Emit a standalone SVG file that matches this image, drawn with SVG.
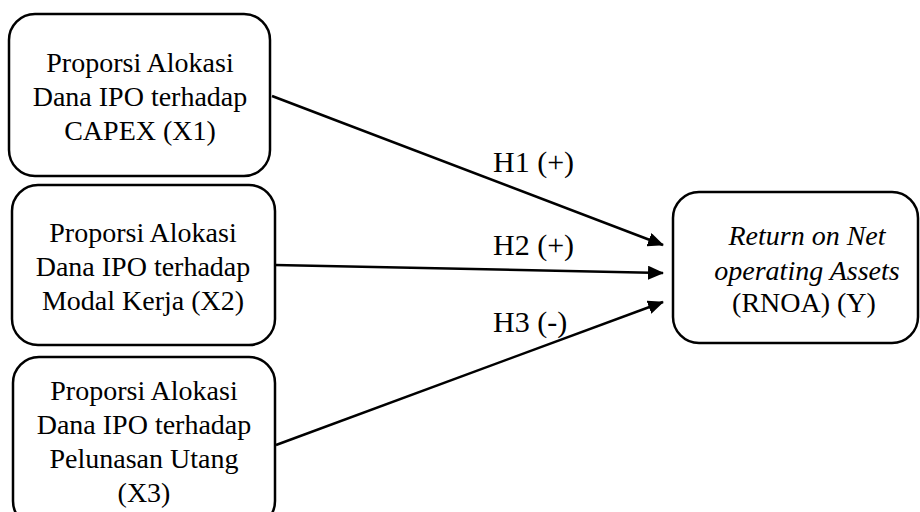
<svg xmlns="http://www.w3.org/2000/svg" width="920" height="512" viewBox="0 0 920 512">
<style>
.box{fill:#fff;stroke:#000;stroke-width:2.5}
.t{font-family:"Liberation Serif","Times New Roman",serif;font-size:28px;fill:#000;text-anchor:middle}
.i{font-style:italic}
.lbl{font-family:"Liberation Serif","Times New Roman",serif;font-size:30px;fill:#000}
.c{stroke:#000;stroke-width:2.5;fill:none;marker-end:url(#ah)}
</style>
<defs>
<marker id="ah" markerWidth="16" markerHeight="14" refX="15" refY="7" orient="auto" markerUnits="userSpaceOnUse">
<path d="M0,0 L16,7 L0,14 Z" fill="#000"/>
</marker>
</defs>
<rect width="920" height="512" fill="#fff"/>
<g id="connectors">
<line class="c" x1="272" y1="96" x2="663" y2="245"/>
<line class="c" x1="275" y1="265" x2="663" y2="273"/>
<line class="c" x1="276" y1="445" x2="663" y2="302"/>
<text class="lbl" x="493" y="172">H1 (+)</text>
<text class="lbl" x="493" y="255">H2 (+)</text>
<text class="lbl" x="493" y="332">H3 (-)</text>
</g>
<g id="x1">
<rect class="box" x="9" y="14" width="261" height="162" rx="26"/>
<text class="t" x="140" y="72">Proporsi Alokasi</text>
<text class="t" x="140" y="106">Dana IPO terhadap</text>
<text class="t" x="140" y="140">CAPEX (X1)</text>
</g>
<g id="x2">
<rect class="box" x="12" y="185" width="263" height="160" rx="26"/>
<text class="t" x="143" y="242">Proporsi Alokasi</text>
<text class="t" x="143" y="276">Dana IPO terhadap</text>
<text class="t" x="143" y="310">Modal Kerja (X2)</text>
</g>
<g id="x3">
<rect class="box" x="13" y="357" width="262" height="170" rx="26"/>
<text class="t" x="144" y="400">Proporsi Alokasi</text>
<text class="t" x="144" y="434">Dana IPO terhadap</text>
<text class="t" x="144" y="468">Pelunasan Utang</text>
<text class="t" x="144" y="502">(X3)</text>
</g>
<g id="y">
<rect class="box" x="673" y="192" width="245" height="151" rx="26"/>
<text class="t i" x="807" y="245">Return on Net</text>
<text class="t i" x="807" y="280">operating Assets</text>
<text class="t" x="804" y="312">(RNOA) (Y)</text>
</g>
</svg>
